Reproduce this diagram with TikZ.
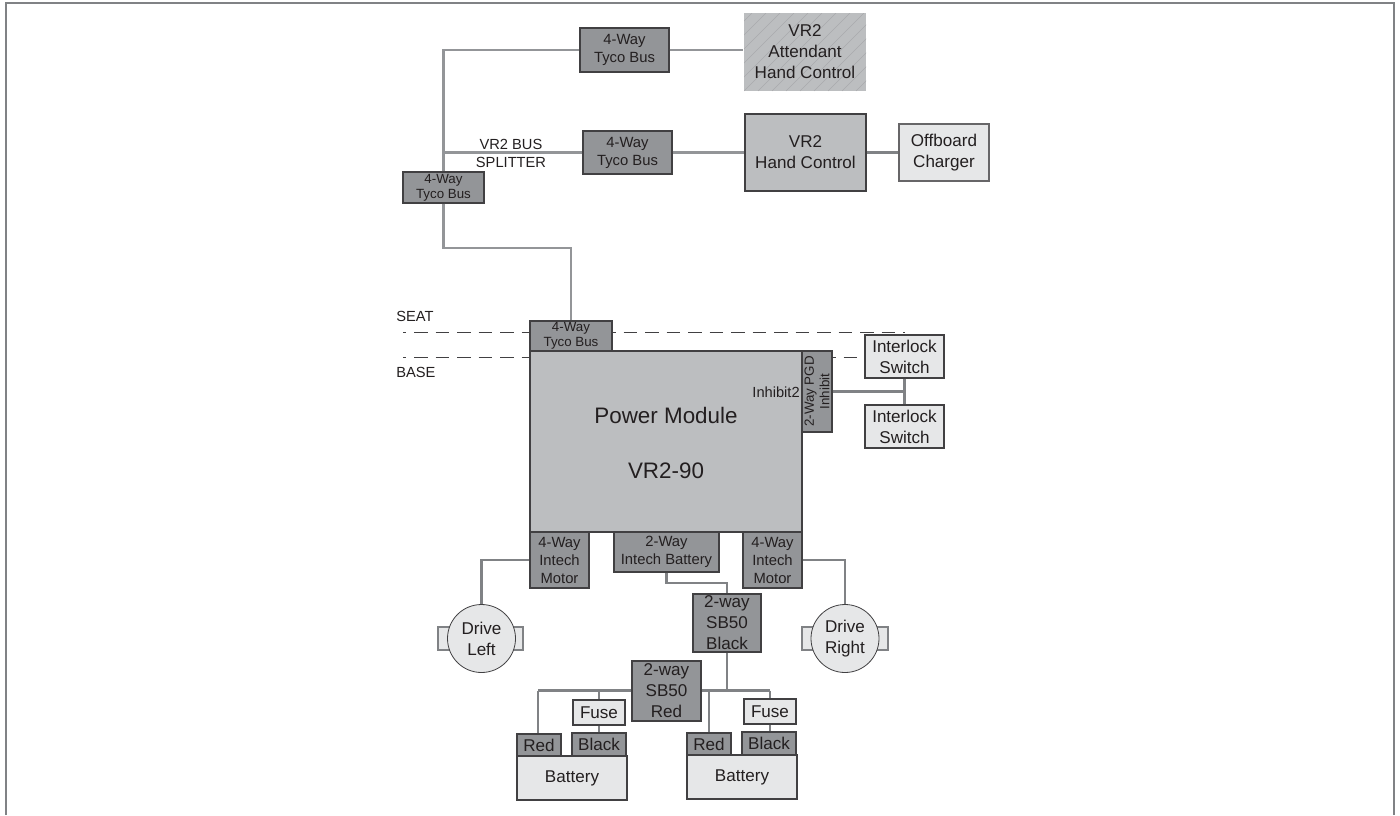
\documentclass[tikz,border=0pt]{standalone}
\usepackage{fontspec}
\setmainfont{Liberation Sans}
\definecolor{cdark}{HTML}{939598}
\definecolor{cmid}{HTML}{BCBEC0}
\definecolor{clight}{HTML}{E6E7E8}
\definecolor{cline}{HTML}{939598}
\definecolor{cwire}{HTML}{808285}
\definecolor{cedge}{HTML}{414042}
\definecolor{ctext}{HTML}{231F20}
\newcommand{\bx}[7][]{%
  \pgfmathsetmacro{\cxx}{(#3+#5)/2}\pgfmathsetmacro{\cyy}{(#4+#6)/2}%
  \pgfmathsetmacro{\wxx}{(#5-#3)*0.75}\pgfmathsetmacro{\hxx}{(#6-#4)*0.75}%
  \node[boxbase,minimum width=\wxx pt,minimum height=\hxx pt,#1] (#2) at (\cxx,\cyy) {#7};}
\tikzset{
  x=0.75pt,y=-0.75pt,
  boxbase/.style={draw=cedge,line width=0.8pt,inner sep=0pt,align=center,text=ctext,rectangle},
  darkbox/.style={fill=cdark},
  midbox/.style={fill=cmid},
  lightbox/.style={fill=clight},
  fbus/.style={font=\fontsize{11.1}{13.5}\selectfont},
  fsmall/.style={font=\fontsize{10}{11.5}\selectfont},
  fmain/.style={font=\fontsize{12.8}{15.8}\selectfont},
  flabel/.style={font=\fontsize{11}{13.5}\selectfont,text=ctext,inner sep=0pt},
  bus/.style={draw=cline,line width=1.9pt},
  wire/.style={draw=cwire,line width=1.9pt},
  thinwire/.style={draw=cwire,line width=1.2pt},
  level/.style={draw=cedge,line width=0.7pt,dash pattern=on 13.5*0.75pt off 8*0.75pt,dash phase=10.5*0.75pt},
  hatched/.style={draw=none,fill=cmid,path picture={
    \foreach \k in {-84,-70,...,126}
      \draw[draw=cdark!80,line width=0.35pt] ([xshift=\k*0.75pt]path picture bounding box.south west) -- ++(78,-78);}},
}
\begin{document}
\begin{tikzpicture}
\useasboundingbox (0,0) rectangle (1400,815);
\fill[white] (0,0) rectangle (1400,815);
\coordinate (fa) at (6,815); \coordinate (fb) at (6,3); \coordinate (fc) at (1394,3); \coordinate (fd) at (1394,815);
\draw[draw=cwire,line width=2.2pt] (fa) -- (fb) -- (fc) -- (fd);

% top
\bx[darkbox,fbus]{busa}{580}{28}{669}{72}{4-Way\\Tyco Bus}
\bx[darkbox,fbus]{busb}{583}{131}{672}{174}{4-Way\\Tyco Bus}
\bx[darkbox,fsmall]{busc}{403}{172}{484}{203}{4-Way\\Tyco Bus}
\bx[hatched,fmain]{att}{744}{13}{866}{91}{VR2\\Attendant\\Hand Control}
\bx[midbox,fmain]{hand}{745}{114}{866}{191}{VR2\\Hand Control}
\bx[lightbox,fmain,draw=cedge!80]{off}{899}{124}{989}{181}{Offboard\\Charger}
\node[flabel,align=center] (split) at (511,153) {VR2 BUS\\SPLITTER};

% power module
\bx[midbox]{pm}{530}{351}{802}{532}{}
\bx[darkbox,fsmall]{busd}{530}{321}{612}{351}{4-Way\\Tyco Bus}
\bx[darkbox]{pgd}{802}{351}{832}{432}{}
\node[font=\fontsize{10}{11.5}\selectfont,text=ctext,align=center,rotate=90,inner sep=0pt] (pgdt) at (pgd) {2-Way PGD\\Inhibit};
\node[font=\fontsize{16.8}{20}\selectfont,text=ctext,inner sep=0pt] (pmt) at (666,415) {Power Module};
\node[font=\fontsize{16.8}{20}\selectfont,text=ctext,inner sep=0pt] (pmv) at (666,471) {VR2-90};
\node[flabel,anchor=east] (inh) at (800,392) {Inhibit2};
\bx[lightbox,fmain]{swa}{865}{335}{944}{378}{Interlock\\Switch}
\bx[lightbox,fmain]{swb}{865}{405}{944}{448}{Interlock\\Switch}
\node[flabel,anchor=west] (seat) at (396,316) {SEAT};
\node[flabel,anchor=west] (base) at (396,372) {BASE};

% motors
\bx[darkbox,fbus]{mota}{530}{532}{589}{588}{4-Way\\Intech\\Motor}
\bx[darkbox,fbus]{batc}{614}{532}{719}{572}{2-Way\\Intech Battery}
\bx[darkbox,fbus]{motb}{743}{532}{802}{588}{4-Way\\Intech\\Motor}
\bx[lightbox,draw=cwire]{taba}{438}{627}{523}{650}{}
\bx[lightbox,draw=cwire]{tabb}{802}{627}{888}{650}{}
\node[circle,draw=cedge,line width=0.6pt,fill=clight,minimum size=51pt,inner sep=0pt,align=center,text=ctext,fmain] (dl) at (481.5,638.5) {Drive\\Left};
\node[circle,draw=cedge,line width=0.6pt,fill=clight,minimum size=51pt,inner sep=0pt,align=center,text=ctext,fmain] (dr) at (845,638.5) {Drive\\Right};

% batteries
\bx[darkbox,fmain]{sbb}{693}{594}{761}{652}{2-way\\SB50\\Black}
\bx[darkbox,fmain]{sbr}{632}{661}{701}{721}{2-way\\SB50\\Red}
\bx[lightbox,fmain]{fua}{573}{700}{625}{725}{Fuse}
\bx[lightbox,fmain]{fub}{744}{699}{796}{724}{Fuse}
\bx[lightbox,fmain]{bata}{517}{756}{627}{800}{Battery}
\bx[lightbox,fmain]{batb}{687}{755}{797}{799}{Battery}
\bx[darkbox,fmain]{reda}{517}{734}{561}{756}{Red}
\bx[darkbox,fmain]{blka}{572}{733}{626}{756}{Black}
\bx[darkbox,fmain]{redb}{687}{733}{731}{755}{Red}
\bx[darkbox,fmain]{blkb}{742}{732}{796}{755}{Black}

% connectors
\coordinate (ja) at (571,248);
\draw[bus] (busc.north) |- (busa.west);
\draw[bus] (busa.east) -- (busa.east -| att.west);
\draw[bus] (busb.west) -- (busb.west -| busc.north);
\draw[bus] (busb.east) -- (busb.east -| hand.west);
\draw[wire] (hand.east |- off.west) -- (off.west);
\draw[bus] (busc.south) |- (ja) -- (busd.north);

\coordinate (sl) at (403,332.5); \coordinate (sr) at (905,332.5); \coordinate (bl) at (403,357);
\draw[level] (sl) -- (sl -| busd.west);
\draw[level] (sl -| busd.east) -- (sr);
\draw[level] (bl) -- (bl -| pm.west);
\draw[level] (bl -| pgd.east) -- (bl -| swa.west);

\draw[wire] (pgd.east) -- (pgd.east -| swa.south);
\draw[wire] (swa.south) -- (swb.north);

\draw[wire] (mota.west) -| (dl.north);
\draw[wire] (motb.east) -| (dr.north);
\coordinate (jb) at (666.5,583);
\draw[wire] (batc.south) -- (jb) -| (sbb.north);
\coordinate (jc) at (538,690.5);
\coordinate (jd) at (770,690.5);
\draw[wire] (sbb.south) -- (sbb.south |- jd);
\draw[wire] (sbr.west |- jc) -- (jc);
\draw[wire] (sbr.east |- jd) -- (jd);
\draw[thinwire] (jc) -- (jc |- reda.north);
\draw[thinwire] (fua.north |- jc) -- (fua.north);
\draw[thinwire] (fua.south) -- (fua.south |- blka.north);
\draw[thinwire] (redb.north |- jd) -- (redb.north);
\draw[thinwire] (jd) -- (fub.north);
\draw[thinwire] (fub.south) -- (fub.south |- blkb.north);
\end{tikzpicture}
\end{document}
